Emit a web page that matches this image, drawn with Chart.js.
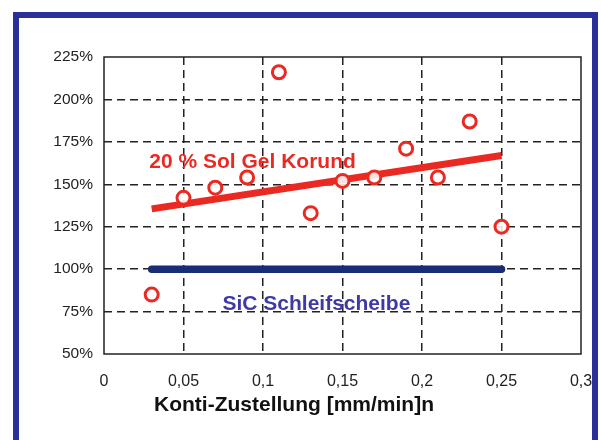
<!DOCTYPE html>
<html><head><meta charset="utf-8">
<script src="https://cdn.jsdelivr.net/npm/chart.js@4"></script>
<style>html,body{margin:0;padding:0;background:#fff;}#wrap{position:relative;width:601px;height:440px;}</style>
</head><body><div id="wrap"><canvas id="c" width="601" height="440"></canvas></div>
<script>
const xTicks = [0, 0.05, 0.1, 0.15, 0.2, 0.25, 0.3];
const xTickLabels = ['0', '0,05', '0,1', '0,15', '0,2', '0,25', '0,3'];
const yTickLabels = ['50%', '75%', '100%', '125%', '150%', '175%', '200%', '225%'];
const zustellung = [0.03, 0.05, 0.07, 0.09, 0.11, 0.13, 0.15, 0.17, 0.19, 0.21, 0.23, 0.25];
const solGelValues = [85, 142, 148, 154, 216, 133, 152, 154, 171, 154, 187, 125];
const trendX = [0.03, 0.25];
const trendY = [135.5, 167];
const sicX = [0.03, 0.25];
const sicY = [100, 100];
const labelSolGel = '20 % Sol Gel Korund';
const labelSiC = 'SiC Schleifscheibe';
const axisTitle = 'Konti-Zustellung [mm/min]n';

const RED = '#ea2a22';
const NAVY = '#1a2c74';
const FONT = '"Liberation Sans", Arial, sans-serif';

const framePlugin = {
  id: 'frame',
  beforeDraw(chart) {
    const ctx = chart.ctx;
    ctx.save();
    ctx.fillStyle = '#fff';
    ctx.fillRect(0, 0, 601, 440);
    ctx.strokeStyle = '#2b2f98';
    ctx.lineWidth = 6;
    ctx.strokeRect(16, 15, 579, 440);
    ctx.restore();
  },
  afterDatasetsDraw(chart) {
    const ctx = chart.ctx;
    const a = chart.chartArea;
    const xs = chart.scales.x, ys = chart.scales.y;
    ctx.save();
    ctx.strokeStyle = '#222';
    ctx.lineWidth = 1.5;
    ctx.setLineDash([]);
    ctx.strokeRect(a.left, a.top, a.right - a.left, a.bottom - a.top);
    ctx.textBaseline = 'middle';
    ctx.textAlign = 'left';
    ctx.font = 'bold 21px ' + FONT;
    ctx.fillStyle = RED;
    ctx.fillText(labelSolGel, xs.getPixelForValue(0.0285), ys.getPixelForValue(163));
    ctx.fillStyle = '#3d3aa6';
    ctx.font = 'bold 21px ' + FONT;
    ctx.fillText(labelSiC, xs.getPixelForValue(0.0745), ys.getPixelForValue(79.5));
    ctx.fillStyle = '#111';
    ctx.font = 'bold 21px ' + FONT;
    ctx.textAlign = 'center';
    ctx.fillText(axisTitle, xs.getPixelForValue(0.1195), 405);
    ctx.restore();
  }
};

new Chart(document.getElementById('c'), {
  type: 'scatter',
  data: {
    datasets: [
      {
        type: 'line',
        data: sicX.map((x, i) => ({x, y: sicY[i]})),
        borderColor: NAVY, borderWidth: 7.5, borderCapStyle: 'round',
        pointRadius: 0, fill: false, order: 3
      },
      {
        type: 'line',
        data: trendX.map((x, i) => ({x, y: trendY[i]})),
        borderColor: RED, borderWidth: 7, borderCapStyle: 'butt',
        pointRadius: 0, fill: false, order: 2
      },
      {
        data: zustellung.map((x, i) => ({x, y: solGelValues[i]})),
        pointStyle: 'circle', pointRadius: 6.5, borderWidth: 3,
        borderColor: RED, backgroundColor: 'rgba(255,255,255,0.85)', order: 1
      }
    ]
  },
  options: {
    responsive: false, animation: false, devicePixelRatio: 1,
    layout: { padding: { top: 57, right: 20, left: 0, bottom: 0 } },
    plugins: { legend: { display: false }, tooltip: { enabled: false } },
    scales: {
      x: {
        type: 'linear', min: 0, max: 0.3,
        afterBuildTicks(s) { s.ticks = xTicks.map(v => ({value: v})); },
        afterFit(s) { s.height = 86; s.paddingLeft = 0; s.paddingRight = 0; },
        ticks: {
          callback: (v) => { const i = xTicks.findIndex(t => Math.abs(t - v) < 1e-9); return i >= 0 ? xTickLabels[i] : ''; },
          font: { family: FONT, size: 16 },
          color: '#222', padding: 18, maxRotation: 0, autoSkip: false
        },
        grid: {
          drawTicks: false, lineWidth: 1.5,
          color: (c) => (c.tick && (c.tick.value <= 0 || c.tick.value >= 0.3)) ? 'rgba(0,0,0,0)' : '#222'
        },
        border: { display: false, dash: [8, 5] }
      },
      y: {
        type: 'linear', min: 50, max: 225,
        afterBuildTicks(s) { s.ticks = yTickLabels.map(l => ({value: parseFloat(l)})); },
        afterFit(s) { s.width = 104; s.paddingTop = 0; s.paddingBottom = 0; },
        ticks: {
          callback: (v) => v + '%',
          font: { family: FONT, size: 15.5 },
          color: '#222', padding: 11, autoSkip: false
        },
        grid: {
          drawTicks: false, lineWidth: 1.5,
          color: (c) => (c.tick && (c.tick.value <= 50 || c.tick.value >= 225)) ? 'rgba(0,0,0,0)' : '#222'
        },
        border: { display: false, dash: [8, 5] }
      }
    }
  },
  plugins: [framePlugin]
});
</script>
</body></html>
